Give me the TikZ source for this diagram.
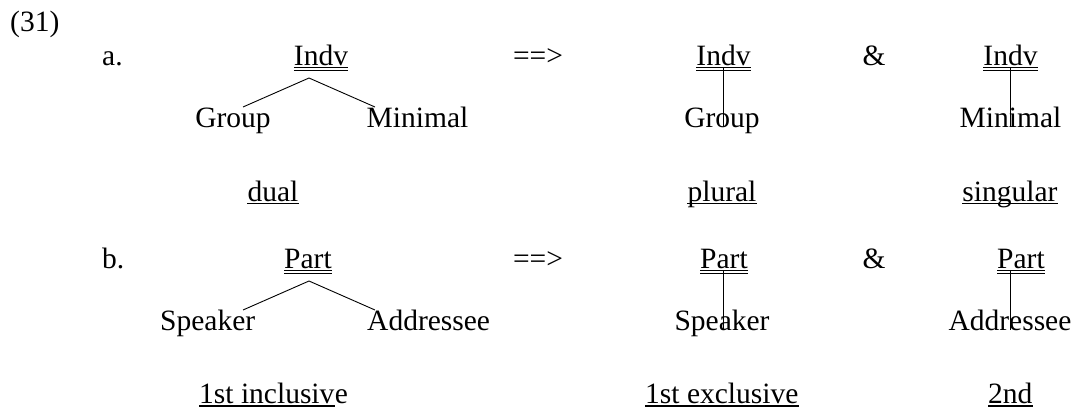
\documentclass[tikz,border=0pt]{standalone}
\usepackage{fontspec}
\setmainfont{Liberation Serif}
\usetikzlibrary{calc}
\tikzset{
  word/.style={inner sep=0pt, anchor=base},
  leg/.style={line width=0.9pt},
  stem/.style={line width=1.8pt},
  uline/.style={line width=1.6pt},
  dline/.style={line width=0.8pt}
}
% double and single underlines below a named node
\def\dblunder(#1){\draw[dline] ([yshift=-2.4pt]#1.base west) -- ([yshift=-2.4pt]#1.base east);
  \draw[dline] ([yshift=-4.9pt]#1.base west) -- ([yshift=-4.9pt]#1.base east);}
\def\under(#1){\draw[uline] ([yshift=-2.4pt]#1.base west) -- ([yshift=-2.4pt]#1.base east);}

\begin{document}
\begin{tikzpicture}[x=1pt, y=-1pt, font=\fontsize{29.5}{34}\selectfont]
		%%%%% START %%%%%
		\useasboundingbox (0,0) rectangle (1077,407);
		\node[word, anchor=base west] (num) at (10,31) {(31)};
		
		% row a
		\node[word, anchor=base west] (ra) at (102,65) {a.};
		\node[word] (indva) at (321,65) {Indv};
		\dblunder(indva)
		\node[word] (arra) at (538,65) {==>};
		\node[word] (indvb) at (723.5,65) {Indv};
		\dblunder(indvb)
		\node[word] (ampa) at (874,65) {\&};
		\node[word] (indvc) at (1010.5,65) {Indv};
		\dblunder(indvc)
		
		\node[word] (groupa) at (233,127) {Group};
		\node[word] (minia) at (417.5,127) {Minimal};
		\coordinate (topa) at (309,78);
		\coordinate (lega) at (243,107);
		\coordinate (legb) at (375,107);
		\draw[leg] (lega) -- (topa) -- (legb);
		
		\node[word] (groupb) at (722,127) {Group};
		\draw[stem] ([yshift=-2.7pt]indvb.base) -- (groupb.base -| indvb.base);
		\node[word] (minic) at (1010.5,127) {Minimal};
		\draw[stem] ([yshift=-2.7pt]indvc.base) -- (minic.base -| indvc.base);
		
		\node[word] (dual) at (273,201) {dual};
		\under(dual)
		\node[word] (plural) at (722,201) {plural};
		\under(plural)
		\node[word] (sing) at (1010,201) {singular};
		\under(sing)
		
		% row b
		\node[word, anchor=base west] (rb) at (102,268) {b.};
		\node[word] (parta) at (308,268) {Part};
		\dblunder(parta)
		\node[word] (arrb) at (538,268) {==>};
		\node[word] (partb) at (724,268) {Part};
		\dblunder(partb)
		\node[word] (ampb) at (874,268) {\&};
		\node[word] (partc) at (1021,268) {Part};
		\dblunder(partc)
		
		\node[word, anchor=base west] (spka) at (160,330) {Speaker};
		\node[word, anchor=base west] (adra) at (367,330) {Addressee};
		\coordinate (topb) at (309,281);
		\coordinate (legc) at (243,310);
		\coordinate (legd) at (375,310);
		\draw[leg] (legc) -- (topb) -- (legd);
		
		\node[word] (spkb) at (722,330) {Speaker};
		\draw[stem] ([yshift=-2.7pt]partb.base -| indvb.base) -- (spkb.base -| indvb.base);
		\node[word] (adrc) at (1010,330) {Addressee};
		\draw[stem] ([yshift=-2.7pt]partc.base -| indvc.base) -- (adrc.base -| indvc.base);
		
		\node[word, anchor=base west] (incl) at (199,403.5) {1st inclusiv};
		\under(incl)
		\node[word, anchor=base west] (incle) at (incl.base east) {e};
		\node[word, anchor=base west] (excl) at (645,403.5) {1st exclusive};
		\under(excl)
		\node[word, anchor=base west] (second) at (988,403.5) {2nd};
		\under(second)
		%%%%% END %%%%%
\end{tikzpicture}
\end{document}
